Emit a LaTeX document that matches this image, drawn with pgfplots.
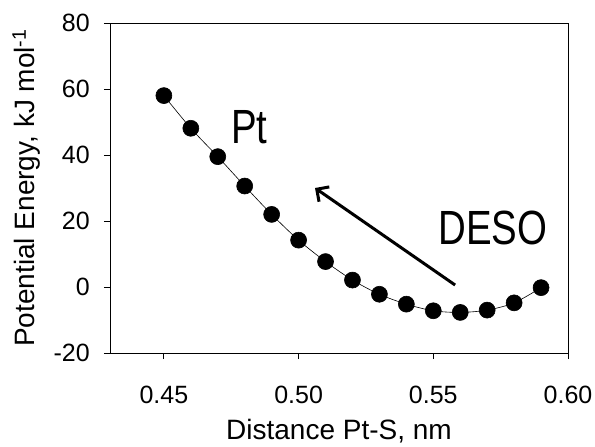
\documentclass[border=0pt]{standalone}
\usepackage{fontspec}
\setmainfont{Liberation Sans}
\usepackage{pgfplots}
\pgfplotsset{compat=1.18}
\usetikzlibrary{arrows.meta}
\begin{document}
\begin{tikzpicture}
\begin{axis}[
  scale only axis,
  width=458pt, height=330pt,
  xmin=0.43, xmax=0.60, ymin=-20, ymax=80,
  xtick={0.45,0.50,0.55,0.60},
  ytick={-20,0,20,40,60,80},
  xticklabels={0.45,0.50,0.55,0.60},
  tick pos=left,
  tick align=outside,
  major tick length=6pt,
  axis line style={line width=0.8pt},
  every tick/.style={line width=0.8pt, black},
  /pgf/number format/assume math mode=true,
  ticklabel style={font=\fontsize{25}{29}\selectfont},
  xticklabel style={anchor=north, inner sep=0pt, yshift=-27pt},
  yticklabel style={anchor=east, inner sep=0pt, xshift=-14pt},
  label style={font=\fontsize{28}{33}\selectfont},
  xlabel={Distance Pt-S, nm},
  ylabel={Potential Energy, kJ mol\textsuperscript{-1}},
  xlabel style={at={(axis description cs:0.5,-0.262)}, anchor=base},
  ylabel style={at={(axis description cs:-0.1638,0.5)}, rotate=0, anchor=base},
  clip=false,
]
\addplot[black, line width=0.6pt, smooth, mark=*, mark size=8pt, mark options={fill=black}] coordinates {
(0.45,58.0) (0.46,48.1) (0.47,39.5) (0.48,30.6) (0.49,22.0) (0.50,14.2)
(0.51,7.7) (0.52,2.1) (0.53,-2.2) (0.54,-5.2) (0.55,-7.2) (0.56,-7.7)
(0.57,-7.0) (0.58,-4.8) (0.59,-0.2)
};
\draw[line width=3pt, -{Straight Barb[length=9pt,width=18pt]}] (axis cs:0.5581,0.6) -- (axis cs:0.5061,30.0);
\node[anchor=base west, xscale=0.8, font=\fontsize{48}{56}\selectfont, inner sep=0pt] at (axis cs:0.4749,43.6) {Pt};
\node[anchor=base west, xscale=0.8, font=\fontsize{48}{56}\selectfont, inner sep=0pt] at (axis cs:0.5518,12.73) {DESO};
\coordinate (bl) at (rel axis cs:0,0);
\end{axis}
\path (bl) ++(-110pt,-88pt) rectangle ++(595pt,441pt);
\end{tikzpicture}
\end{document}
